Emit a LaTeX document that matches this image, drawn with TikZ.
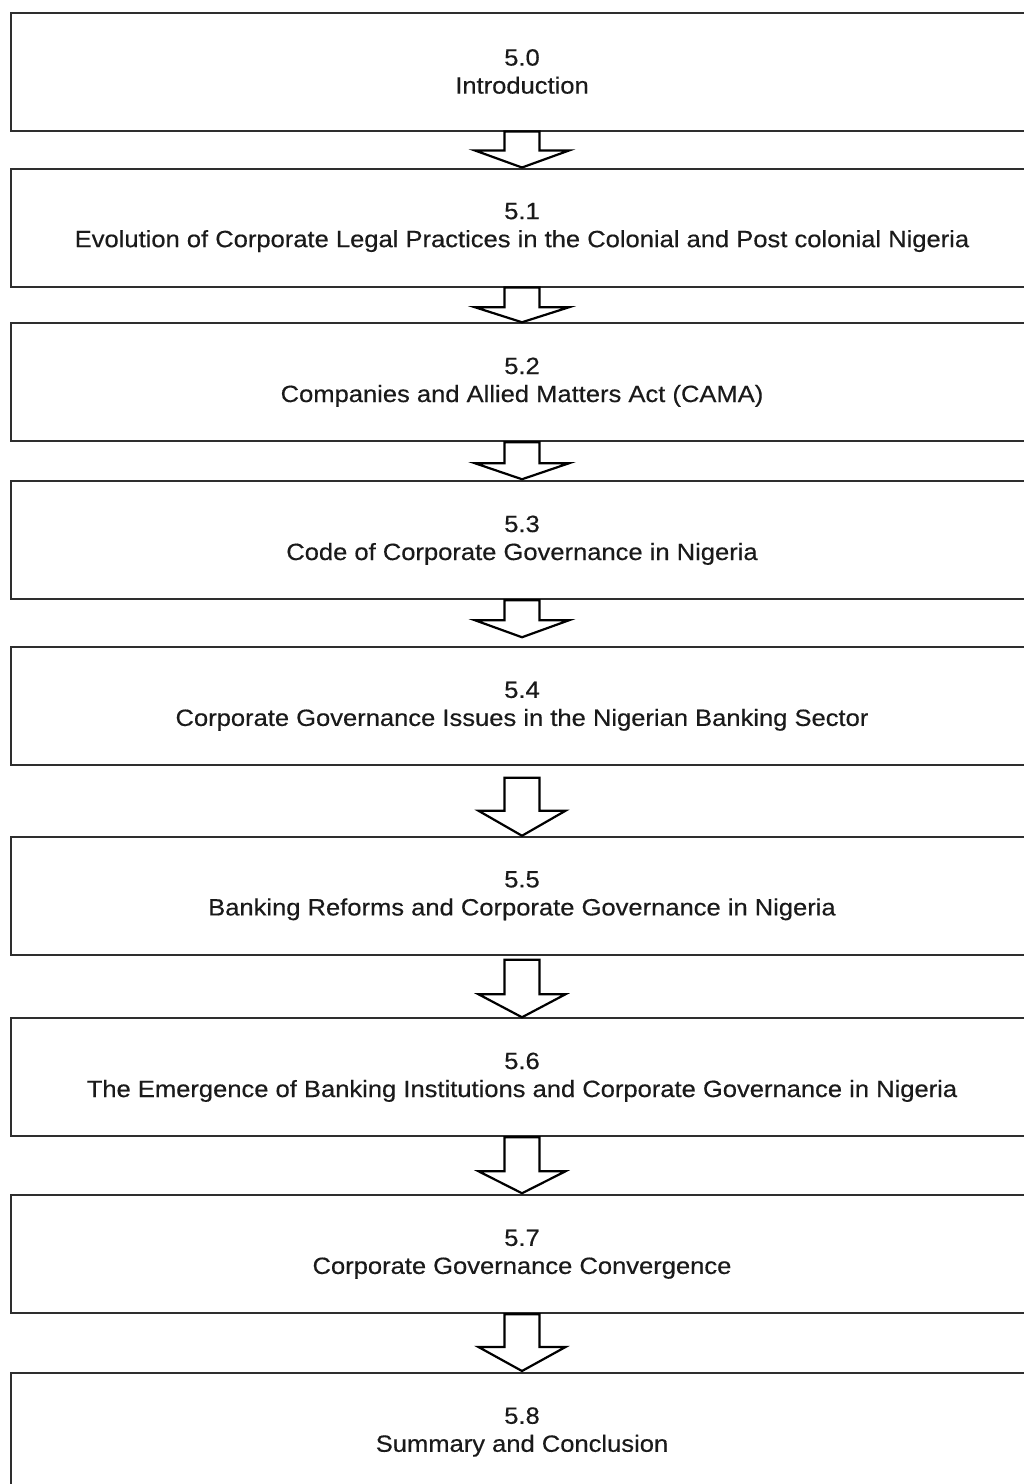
\documentclass[tikz,border=0pt]{standalone}
\usepackage{fontspec}
\setmainfont{Liberation Sans}
\newfontfamily\boxfont{Liberation Sans}[FakeBold=0.4, FakeStretch=1.087]
\usetikzlibrary{calc}
\definecolor{boxline}{HTML}{2E2E2E}
\definecolor{txt}{HTML}{1A1A1A}
\tikzset{
  secbox/.style={draw=boxline, line width=2pt, fill=white, minimum width=1023pt,
    minimum height=118pt, inner sep=0pt, align=center, text=txt,
    font=\boxfont\fontsize{23.5}{28}\selectfont},
  blockarr/.style={draw=black, line width=2.2pt, fill=white, line join=miter}
}
% #1 from node, #2 to node, #3 gap below #1, #4 gap above #2, #5 head length, #6 head half width
\newcommand\blockarrow[6]{%
  \coordinate (bt) at ($(#1.south)+(0,#3)$);
  \coordinate (bp) at ($(#2.north)+(0,-#4)$);
  \coordinate (bs) at ($(bp)+(0,-#5)$);
  \draw[blockarr] ($(bt)+(-17.5,0)$) -- ($(bs)+(-17.5,0)$) -- ($(bs)+(-#6,0)$)
    -- (bp) -- ($(bs)+(#6,0)$) -- ($(bs)+(17.5,0)$) -- ($(bt)+(17.5,0)$) -- cycle;
}
\begin{document}
\begin{tikzpicture}[x=1pt, y=-1pt]
\path[use as bounding box, clip] (0,0) rectangle (1024,1484);
\fill[white] (0,0) rectangle (1024,1484);
\node[secbox] (s0) at (522,71.5) {5.0\\Introduction};
\node[secbox] (s1) at (522,227.5) {5.1\\Evolution of Corporate Legal Practices in the Colonial and Post colonial Nigeria};
\node[secbox] (s2) at (522,382.25) {5.2\\Companies and Allied Matters Act (CAMA)};
\node[secbox] (s3) at (522,540.25) {5.3\\Code of Corporate Governance in Nigeria};
\node[secbox] (s4) at (522,706.25) {5.4\\Corporate Governance Issues in the Nigerian Banking Sector};
\node[secbox] (s5) at (522,895.75) {5.5\\Banking Reforms and Corporate Governance in Nigeria};
\node[secbox] (s6) at (522,1077.25) {5.6\\The Emergence of Banking Institutions and Corporate Governance in Nigeria};
\node[secbox] (s7) at (522,1254.25) {5.7\\Corporate Governance Convergence};
\node[secbox] (s8) at (522,1432) {5.8\\Summary and Conclusion};
\blockarrow{s0}{s1}{0}{0}{17}{47}
\blockarrow{s1}{s2}{0}{0}{15}{47}
\blockarrow{s2}{s3}{0}{1}{16}{47}
\blockarrow{s3}{s4}{0}{9}{17}{47}
\blockarrow{s4}{s5}{11.5}{0}{25}{43.5}
\blockarrow{s5}{s6}{4}{0}{23}{43.5}
\blockarrow{s6}{s7}{0}{1}{22}{43.5}
\blockarrow{s7}{s8}{0}{1}{24}{43.5}
\end{tikzpicture}
\end{document}
